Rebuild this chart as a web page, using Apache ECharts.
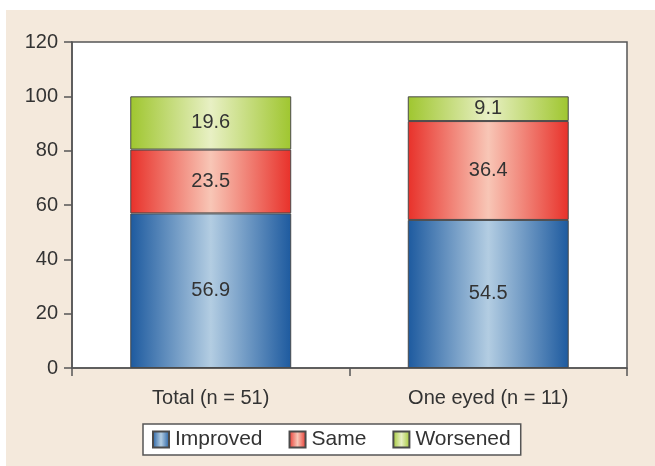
<!DOCTYPE html>
<html>
<head>
<meta charset="utf-8">
<script src="https://cdn.jsdelivr.net/npm/echarts@6/dist/echarts.min.js"></script>
<style>
  html, body { margin: 0; padding: 0; background: #ffffff; }
  #chart { position: absolute; left: 6px; top: 10px; width: 649px; height: 456px; }
</style>
</head>
<body>
<div id="chart"></div>
<script>
// Outcome percentages per group
const categories = ['Total (n = 51)', 'One eyed (n = 11)'];
const improved = [56.9, 54.5];
const same = [23.5, 36.4];
const worsened = [19.6, 9.1];
const yTicks = [0, 20, 40, 60, 80, 100, 120];

// Horizontal shading: darker edges, pale centre
function shade(edge, mid) {
  return new echarts.graphic.LinearGradient(0, 0, 1, 0, [
    { offset: 0, color: edge },
    { offset: 0.5, color: mid },
    { offset: 1, color: edge }
  ]);
}

const fontFamily = '"Liberation Sans", Arial, sans-serif';

function stackSeries(name, data, edge, mid) {
  return {
    name: name,
    type: 'bar',
    stack: 'total',
    data: data,
    barWidth: '58%',
    itemStyle: { color: shade(edge, mid), borderColor: '#4a4a4a', borderWidth: 1 },
    label: {
      show: true,
      position: 'inside',
      color: '#333333',
      fontSize: 20,
      fontFamily: fontFamily,
      formatter: p => p.value.toFixed(1)
    }
  };
}

const chart = echarts.init(document.getElementById('chart'));
chart.setOption({
  animation: false,
  backgroundColor: '#f4e9dc',
  textStyle: { fontFamily: fontFamily },
  grid: {
    left: 66, top: 32, right: 28, bottom: 98,
    show: true, backgroundColor: '#ffffff', borderColor: '#555555', borderWidth: 1.5
  },
  legend: {
    left: 137, top: 414,
    itemWidth: 16, itemHeight: 16, itemGap: 26,
    padding: [5, 10, 5, 9],
    backgroundColor: '#ffffff',
    borderColor: '#555555', borderWidth: 1.5, borderRadius: 0,
    textStyle: { fontSize: 21, color: '#333333', padding: [0, 0, 0, 1] },
    icon: 'rect',
    data: ['Improved', 'Same', 'Worsened']
  },
  xAxis: {
    type: 'category',
    data: categories,
    axisLine: { lineStyle: { color: '#555555', width: 1.5 } },
    axisTick: { show: true, length: 8, lineStyle: { color: '#555555', width: 1.5 } },
    axisLabel: { color: '#333333', fontSize: 20, margin: 20 }
  },
  yAxis: {
    type: 'value',
    min: yTicks[0], max: yTicks[yTicks.length - 1], interval: 20,
    splitLine: { show: false },
    axisLine: { show: true, lineStyle: { color: '#555555', width: 1.5 } },
    axisTick: { show: true, length: 8, lineStyle: { color: '#555555', width: 1.5 } },
    axisLabel: { color: '#333333', fontSize: 20, margin: 14 }
  },
  series: [
    stackSeries('Improved', improved, '#1d5a9f', '#b3cde2'),
    stackSeries('Same', same, '#e8312a', '#f8c6b6'),
    stackSeries('Worsened', worsened, '#9fc62f', '#e8f0c4')
  ]
});
</script>
</body>
</html>
